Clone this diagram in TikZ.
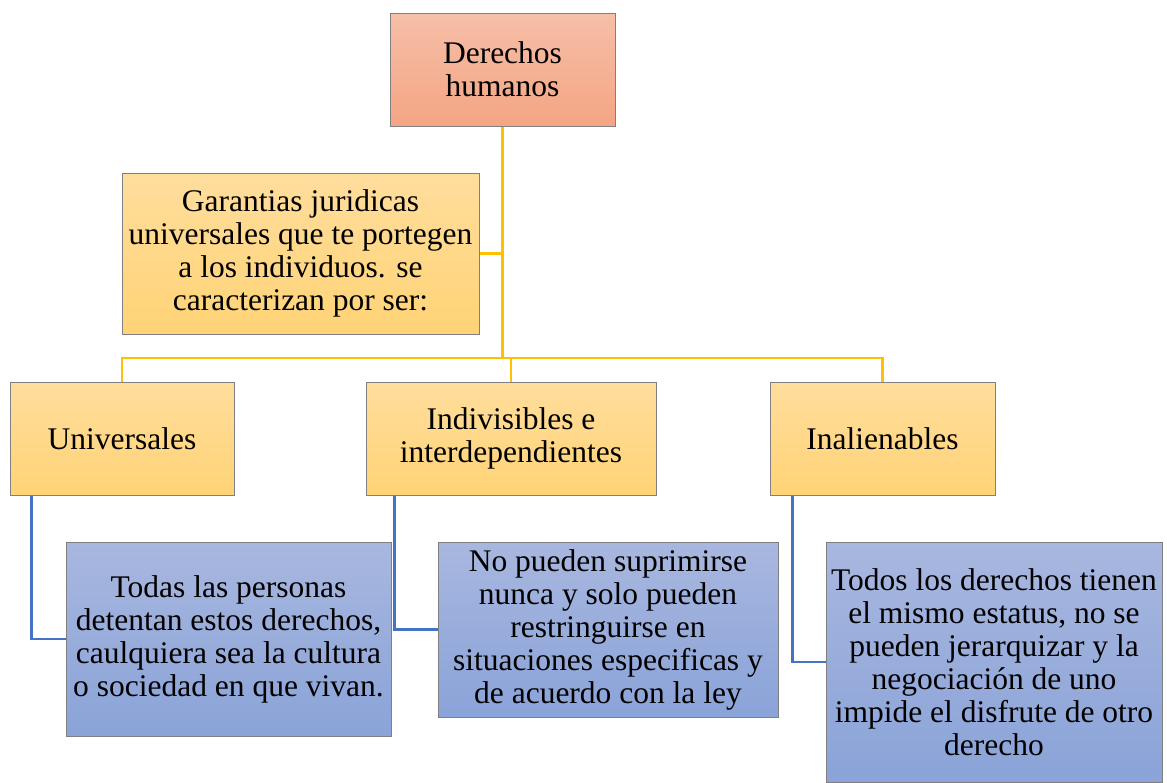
\documentclass[tikz,border=0pt]{standalone}
\usepackage{fontspec}
\setmainfont{Liberation Serif}
\usepackage{xcolor}
\definecolor{Salmon Top}{HTML}{F6BFA8}
\definecolor{Salmon Bottom}{HTML}{F4A583}
\definecolor{Sand Top}{HTML}{FFDD9C}
\definecolor{Sand Bottom}{HTML}{FFD376}
\definecolor{Sky Top}{HTML}{A8B7DF}
\definecolor{Sky Bottom}{HTML}{8AA3D8}
\definecolor{Amber}{HTML}{FFC000}
\definecolor{Cobalt}{HTML}{4472C4}
\definecolor{Slate}{HTML}{808080}
\usepackage{tikz}
\usetikzlibrary{calc, positioning}
\tikzset{
	font = \fontsize{31.5}{33}\selectfont,
	box/.style={
		draw=Slate,
		rectangle,
		line width=1pt,
		inner sep=0pt,
		align=center
	},
	root box/.style={
		box,
		top color=Salmon Top,
		bottom color=Salmon Bottom
	},
	head box/.style={
		box,
		top color=Sand Top,
		bottom color=Sand Bottom
	},
	note box/.style={
		box,
		top color=Sky Top,
		bottom color=Sky Bottom
	},
	trunk/.style={
		draw=Amber,
		line width=2.8pt
	},
	branch/.style={
		draw=Cobalt,
		line width=2.5pt
	}
}

\begin{document}
\begin{tikzpicture}[x=1pt, y=-1pt]
\useasboundingbox (0,0) rectangle (1167,782);
% ---
% top and intro
% ---
\node[root box, minimum width=225pt, minimum height=113pt] at (502.5,69.5) (dh) {Derechos\\humanos};
\node[head box, minimum width=357pt, minimum height=161pt] at (300.5,253.5) (garantias) {Garantias juridicas\\universales que te portegen\\a los individuos. se\\caracterizan por ser:};
\coordinate (split) at (502.5,358);

% ---
% the three features
% ---
\node[head box, minimum width=224pt, minimum height=113pt] at (122,438.5) (univ) {Universales};
\node[head box, minimum width=290pt, minimum height=113pt] at (511,438.5) (indiv) {Indivisibles e\\interdependientes};
\node[head box, minimum width=225pt, minimum height=113pt] at (882.5,438.5) (inal) {Inalienables};

\node[note box, minimum width=325pt, minimum height=194pt] at (228.5,639) (desc-univ) {Todas las personas\\detentan estos derechos,\\caulquiera sea la cultura\\o sociedad en que vivan.};
\node[note box, minimum width=340pt, minimum height=175pt] at (608,629.5) (desc-indiv) {No pueden suprimirse\\nunca y solo pueden\\restringuirse en\\situaciones especificas y\\de acuerdo con la ley};
\node[note box, minimum width=336pt, minimum height=240pt] at (994,662) (desc-inal) {Todos los derechos tienen\\el mismo estatus, no se\\pueden jerarquizar y la\\negociación de uno\\impide el disfrute de otro\\derecho};

\draw[trunk] (dh.south) -- (split);
\draw[trunk] (garantias.east) -- (garantias.east -| split);
\draw[trunk] (univ.north) |- (split) -| (inal.north);
\draw[trunk] (split -| indiv.north) -- (indiv.north);

\draw[branch] ([xshift=22pt]univ.south west) |- (desc-univ.west);
\draw[branch] ([xshift=29pt]indiv.south west) |- (desc-indiv.west);
\draw[branch] ([xshift=23pt]inal.south west) |- (desc-inal.west);
\end{tikzpicture}
\end{document}
